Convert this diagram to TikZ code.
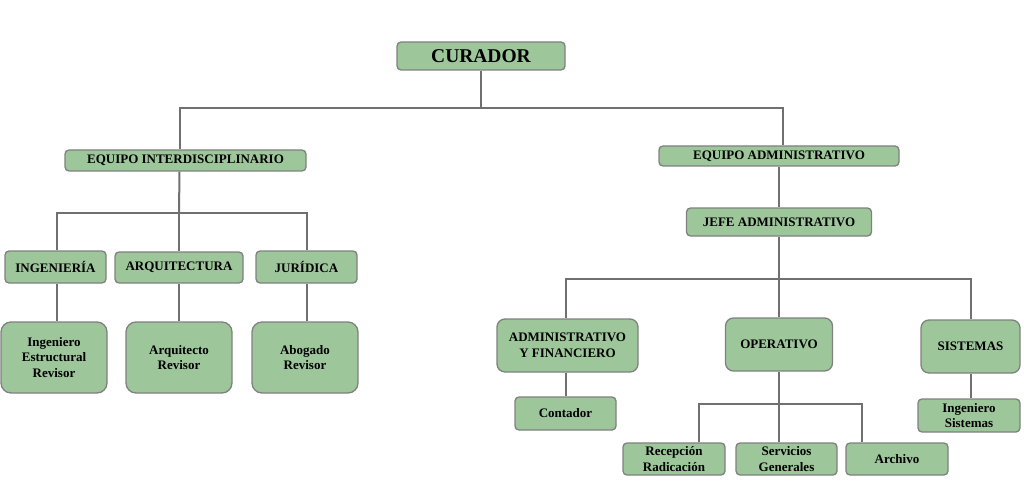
\documentclass[tikz,border=0pt]{standalone}
\usepackage{fontspec}
\setmainfont{Liberation Serif}
\usepackage{tikz}
\definecolor{boxgreen}{RGB}{157,198,154}
\definecolor{boxline}{RGB}{128,128,128}
\definecolor{linkgray}{RGB}{112,112,112}
\begin{document}
\begin{tikzpicture}[x=1pt, y=-1pt,
		box/.style={draw=boxline, line width=1.3pt, fill=boxgreen, rounded corners=4pt, align=center, inner sep=0pt,
			font=\fontsize{13}{15.5}\selectfont\bfseries},
		bigbox/.style={box, rounded corners=10pt},
		midbox/.style={box, rounded corners=8pt},
		link/.style={draw=linkgray, line width=2pt}]
			\useasboundingbox (0,0) rectangle (1024,497);
			\node[box, minimum width=168pt, minimum height=28pt, font=\fontsize{19.5}{22}\selectfont\bfseries] (curador) at (481,56) {CURADOR};
			\node[box, minimum width=241pt, minimum height=21pt] (eqint) at (185.5,160.5) {EQUIPO INTERDISCIPLINARIO};
			\node[box, minimum width=240pt, minimum height=20pt] (eqadm) at (779,156) {EQUIPO ADMINISTRATIVO};
			\node[box, minimum width=101pt, minimum height=32pt] (ing) at (55.5,267) {INGENIERÍA};
			\node[box, minimum width=128pt, minimum height=31pt] (arq) at (179,267.5) {ARQUITECTURA};
			\node[box, minimum width=101pt, minimum height=32pt] (jur) at (306.5,267) {JURÍDICA};
			\node[bigbox, minimum width=106pt, minimum height=71pt] (ingrev) at (54,357.5) {Ingeniero\\Estructural\\Revisor};
			\node[bigbox, minimum width=106pt, minimum height=71pt] (arqrev) at (179,357.5) {Arquitecto\\Revisor};
			\node[bigbox, minimum width=106pt, minimum height=71pt] (abrev) at (305,357.5) {Abogado\\Revisor};
			\node[box, minimum width=185pt, minimum height=28pt] (jefe) at (779,222) {JEFE ADMINISTRATIVO};
			\node[midbox, minimum width=141pt, minimum height=53pt] (adfin) at (567.5,345.5) {ADMINISTRATIVO\\Y FINANCIERO};
			\node[midbox, minimum width=107pt, minimum height=53pt] (oper) at (779,344.5) {OPERATIVO};
			\node[midbox, minimum width=99pt, minimum height=53pt] (sist) at (970.5,346.5) {SISTEMAS};
			\node[box, minimum width=101pt, minimum height=33pt] (cont) at (565.5,413.5) {Contador};
			\node[box, minimum width=102pt, minimum height=33pt] (ingsis) at (969,415.5) {Ingeniero\\Sistemas};
			\node[box, minimum width=102pt, minimum height=32pt] (recep) at (674,459) {Recepción\\Radicación};
			\node[box, minimum width=101pt, minimum height=32pt] (serv) at (786.5,459) {Servicios\\Generales};
			\node[box, minimum width=102pt, minimum height=32pt] (arch) at (897,459) {Archivo};
			\coordinate (top) at (481,108);
			\coordinate (intbus) at (179,213);
			\coordinate (admbus) at (779,279);
			\coordinate (opbus) at (779,404);
			\draw[link] (curador.south) -- (top);
			\draw[link] ([xshift=-6pt]eqint.north) |- (top) -| ([xshift=4pt]eqadm.north);
			\draw[link] ([xshift=-6pt]eqint.south) -- (intbus);
			\draw[link] ([xshift=1.5pt]ing.north) |- (intbus) -| (jur.north);
			\draw[link] (intbus) -- (arq.north);
			\draw[link] ([xshift=1.5pt]ing.south) -- ([xshift=3pt]ingrev.north);
			\draw[link] (arq.south) -- (arqrev.north);
			\draw[link] (jur.south) -- ([xshift=1.5pt]abrev.north);
			\draw[link] (eqadm.south) -- (jefe.north);
			\draw[link] (jefe.south) -- (admbus);
			\draw[link] ([xshift=-1.5pt]adfin.north) |- (admbus) -| (sist.north);
			\draw[link] (admbus) -- (oper.north);
			\draw[link] ([xshift=-1.5pt]adfin.south) -- ([xshift=0.5pt]cont.north);
			\draw[link] (sist.south) -- ([xshift=1.5pt]ingsis.north);
			\draw[link] (oper.south) -- (opbus);
			\draw[link] ([xshift=25pt]recep.north) |- (opbus) -| ([xshift=-35pt]arch.north);
			\draw[link] (opbus) -- (opbus |- serv.north);
		\end{tikzpicture}
\end{document}
